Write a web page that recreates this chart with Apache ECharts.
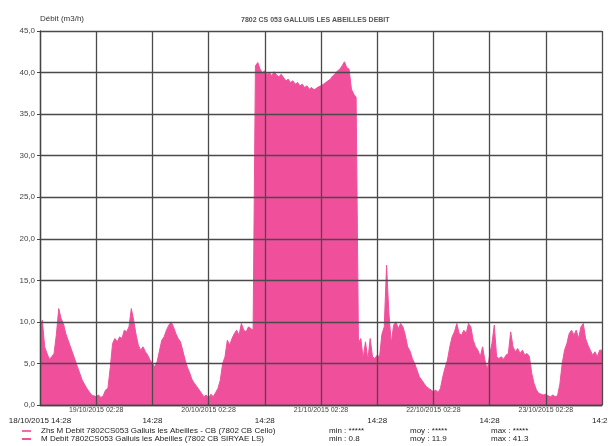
<!DOCTYPE html>
<html>
<head>
<meta charset="utf-8">
<script src="https://cdn.jsdelivr.net/npm/echarts@6/dist/echarts.min.js"></script>
<style>html,body{margin:0;padding:0;background:#fff}#c{width:608px;height:446px}</style>
</head>
<body>
<div id="c"></div>
<script>
// Half-hourly flow values (m3/h) from 18/10/2015 14:28 to 23/10/2015 14:28
const flowValues = [
  9.5,10.2, 7.0,6.2, 5.5,5.8, 6.2,8.5, 11.6,10.4, 9.8,8.6, 7.8,7.0, 6.2,5.4, 4.6,3.8, 3.0,2.5,
  2.0,1.6, 1.2,1.1, 1.0,1.2, 0.9,1.1, 1.8,2.0, 4.5,7.4, 8.0,7.6, 8.2,8.0, 9.0,8.8, 9.4,11.6,
  10.2,8.5, 7.2,6.6, 7.0,6.4, 6.0,5.4, 5.0,4.6, 5.2,6.5, 7.8,8.2, 9.0,9.6, 10.0,9.4, 8.6,8.0,
  7.6,6.5, 5.4,4.5, 3.8,3.0, 2.6,2.2, 1.8,1.4, 1.0,1.2, 0.8,1.3, 1.0,1.5, 2.0,3.0, 5.0,5.8,
  7.8,7.2, 8.0,8.6, 9.0,8.4, 9.8,9.0, 8.8,9.4, 9.2,9.0, 40.8,41.2, 40.4,40.0, 40.2,39.8, 40.0,39.6,
  40.1,39.7, 39.5,39.8, 39.4,39.0, 39.2,38.8, 39.0,38.6, 38.8,38.4, 38.6,38.2, 38.4,38.0, 38.2,37.9, 38.1,38.3,
  38.4,38.6, 38.8,39.0, 39.2,39.6, 39.8,40.2, 40.4,40.8, 41.3,40.6, 40.4,38.0, 37.4,37.0, 7.5,8.0, 5.6,7.6,
  5.4,8.0, 5.8,5.6, 6.0,5.8, 8.5,9.4, 16.8,11.0, 7.4,9.6, 10.0,9.2, 9.8,9.4, 8.4,7.0, 6.5,5.6,
  5.0,4.2, 3.4,3.0, 2.6,2.2, 2.0,1.8, 1.6,1.8, 1.5,2.0, 3.4,4.5, 5.4,7.0, 8.2,8.8, 9.8,8.6,
  8.4,9.0, 8.6,9.8, 9.4,7.8, 7.0,6.6, 5.8,7.0, 5.4,4.2, 6.0,7.4, 9.6,5.8, 5.6,5.8, 5.5,6.0,
  6.2,8.8, 7.0,6.4, 6.8,6.2, 6.6,6.0, 6.2,5.8, 3.8,2.6, 1.8,1.4, 1.3,1.2, 1.3,1.1, 1.0,1.2,
  1.0,1.1, 2.5,5.0, 6.6,7.4, 8.6,9.0, 8.4,9.0, 8.0,9.4, 9.8,8.0, 7.2,6.6, 6.0,6.4, 5.8,6.6,
  6.6
];
const xTickLabels = ['18/10/2015 14:28','19/10/2015 02:28','14:28','20/10/2015 02:28','14:28',
  '21/10/2015 02:28','14:28','22/10/2015 02:28','14:28','23/10/2015 02:28','14:28'];
const seriesNames = ['Zhs M Debit 7802CS053 Galluis les Abeilles - CB (7802 CB Cello)',
  'M Debit 7802CS053 Galluis les Abeilles (7802 CB SIRYAE LS)'];
const legendStats = [['*****','*****','*****'], ['0.8','11.9','41.3']];

const stepHours = 0.5;
const flowData = flowValues.map((v, i) => [i * stepHours, v]);
const FONT = "'Liberation Sans', Arial, sans-serif";

function tickLabel(v, wantOdd) {
  const idx = Math.round(v / 12);
  return ((idx % 2 === 1) === wantOdd) ? xTickLabels[idx] : '';
}

const chart = echarts.init(document.getElementById('c'), null, {renderer: 'canvas'});
chart.setOption({
  animation: false,
  textStyle: {fontFamily: FONT},
  title: {
    text: '7802 CS 053 GALLUIS LES ABEILLES DEBIT',
    left: 241, top: 17, padding: 0,
    textStyle: {fontSize: 7, fontWeight: 'bold', color: '#555', fontFamily: FONT}
  },
  grid: {left: 40, right: 6, top: 31, bottom: 41, containLabel: false, outerBoundsMode: 'none'},
  xAxis: [
    {
      type: 'value', min: 0, max: 120, interval: 12,
      axisLine: {show: true, lineStyle: {color: '#444', width: 1.3}},
      axisTick: {show: false},
      splitLine: {show: true, lineStyle: {color: '#4a4a4a', width: 1.3}},
      axisLabel: {
        margin: 2, fontSize: 7, color: '#444', showMinLabel: true, showMaxLabel: true, hideOverlap: false,
        formatter: v => tickLabel(v, true)
      }
    },
    {
      type: 'value', min: 0, max: 120, interval: 12, position: 'bottom', offset: 0,
      axisLine: {show: false}, axisTick: {show: false}, splitLine: {show: false},
      axisLabel: {
        margin: 12, fontSize: 8, color: '#222', showMinLabel: true, showMaxLabel: true, hideOverlap: false,
        formatter: v => tickLabel(v, false)
      }
    }
  ],
  yAxis: {
    type: 'value', min: 0, max: 45, interval: 5,
    name: 'Débit (m3/h)', nameLocation: 'end', nameGap: 8,
    nameTextStyle: {align: 'left', fontSize: 8, color: '#333', fontFamily: FONT},
    axisLine: {show: true, lineStyle: {color: '#444', width: 1.3}},
    axisTick: {show: true, length: 3, lineStyle: {color: '#444'}},
    splitLine: {show: true, lineStyle: {color: '#4a4a4a', width: 1.3}},
    axisLabel: {
      margin: 5, fontSize: 8, color: '#444', hideOverlap: false,
      formatter: v => v.toFixed(1).replace('.', ',')
    }
  },
  legend: {
    orient: 'vertical', left: 22, top: 427, padding: 0, itemGap: 0,
    itemWidth: 9, itemHeight: 2, icon: 'rect',
    data: seriesNames,
    formatter: function (name) {
      const i = seriesNames.indexOf(name);
      const s = legendStats[i];
      return '{n|' + name + '}{m|min : ' + s[0] + '}{o|moy : ' + s[1] + '}{x|max : ' + s[2] + '}';
    },
    textStyle: {
      fontSize: 8, color: '#222', fontFamily: FONT,
      rich: {
        n: {width: 288, padding: [0, 0, 0, 5], fontSize: 8, lineHeight: 10},
        m: {width: 81, fontSize: 8, lineHeight: 10},
        o: {width: 81, fontSize: 8, lineHeight: 10},
        x: {fontSize: 8, lineHeight: 10}
      }
    }
  },
  series: [
    {
      name: seriesNames[0], type: 'line', data: [],
      itemStyle: {color: '#f26aa9'}, showSymbol: false
    },
    {
      name: seriesNames[1], type: 'line', data: flowData, z: -1,
      xAxisIndex: 0, showSymbol: false, sampling: 'none',
      itemStyle: {color: '#f0509b'},
      lineStyle: {color: '#f0509b', width: 1},
      areaStyle: {color: '#f0509b', opacity: 1}
    }
  ]
});
</script>
</body>
</html>
